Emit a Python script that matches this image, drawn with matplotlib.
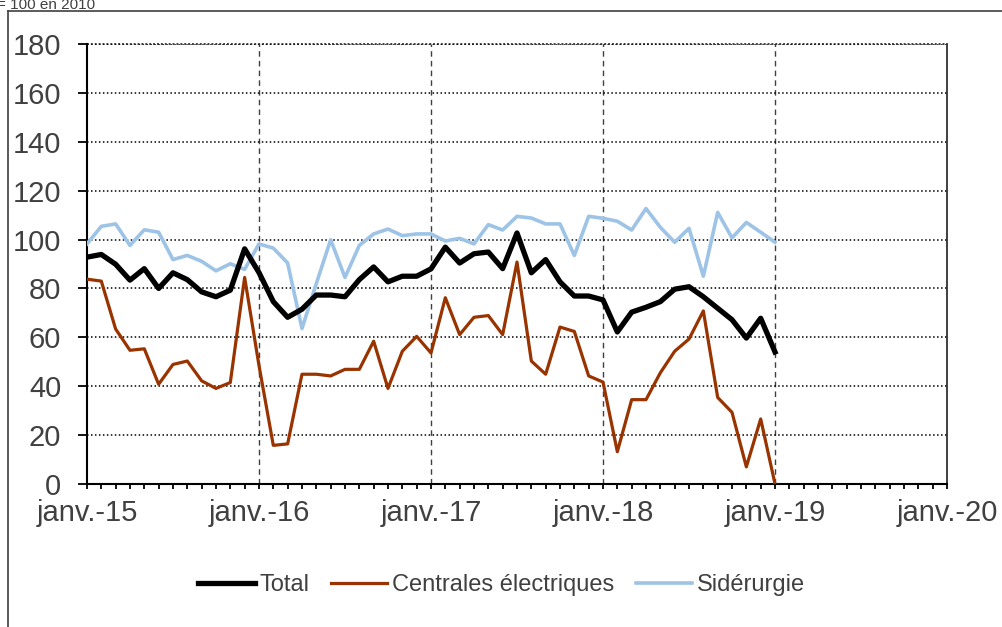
import matplotlib
matplotlib.use('Agg')
import matplotlib.pyplot as plt
from matplotlib.lines import Line2D
import numpy as np

plt.rcParams['font.family'] = ['Liberation Sans', 'DejaVu Sans']

# indices mensuels, base 100 en 2010 (janv.-15 -> janv.-19)
total = [92.8, 93.9, 89.9, 83.4, 88.1, 80.0, 86.4, 83.6, 78.6, 76.6, 79.3, 96.2,
         86.5, 74.6, 68.2, 71.5, 77.3, 77.3, 76.6, 83.6, 88.8, 82.7, 85.0, 85.0,
         88.0, 96.9, 90.4, 94.2, 94.9, 88.1, 102.7, 86.4, 91.8, 82.7, 76.9, 76.9,
         75.3, 62.2, 70.3, 72.3, 74.6, 79.7, 80.7, 76.6, 71.9, 67.2, 59.7, 67.8, 54.0]
centrales = [83.8, 83.0, 63.4, 54.7, 55.3, 40.8, 48.9, 50.3, 42.2, 39.1, 41.5, 84.5,
             48.5, 15.8, 16.4, 44.9, 44.9, 44.2, 46.9, 46.9, 58.4, 39.1, 54.3, 60.4,
             53.6, 76.2, 61.1, 68.2, 68.9, 61.1, 90.8, 50.3, 44.9, 64.2, 62.4, 44.2,
             41.7, 13.2, 34.5, 34.5, 45.5, 54.3, 59.3, 70.8, 35.4, 29.3, 7.0, 26.6, 0.0]
siderurgie = [98.2, 105.4, 106.4, 97.6, 104.0, 103.0, 91.8, 93.5, 91.1, 87.2, 90.1, 87.8,
              98.2, 96.5, 90.4, 63.6, 82.0, 99.9, 84.5, 97.6, 102.3, 104.3, 101.6, 102.3,
              102.3, 99.4, 100.5, 98.2, 106.1, 103.9, 109.5, 108.8, 106.4, 106.4, 93.5, 109.5,
              108.7, 107.5, 103.9, 112.7, 105.0, 98.9, 104.6, 85.0, 111.1, 100.7, 107.0, 103.0, 98.9]
x_labels = ['janv.-15', 'janv.-16', 'janv.-17', 'janv.-18', 'janv.-19', 'janv.-20']

months = np.arange(len(total))
txt = '#404040'

fig = plt.figure(figsize=(10.03, 6.27), dpi=100)
ax = fig.add_axes([0.0867, 0.2281, 0.9442 - 0.0867, 0.9298 - 0.2281])

ax.plot(months, siderurgie, color='#9DC3E6', lw=2.6, label='Sidérurgie', zorder=3)
ax.plot(months, centrales, color='#993300', lw=2.3, label='Centrales électriques', zorder=4)
ax.plot(months, total, color='black', lw=3.8, label='Total', zorder=5)

ax.set_xlim(0, 60)
ax.set_ylim(0, 180)
ax.set_yticks(range(0, 181, 20))
ax.set_xticks(range(0, 61, 12))
ax.set_xticklabels(x_labels)
ax.set_xticks(range(0, 61), minor=True)

ax.yaxis.grid(True, linestyle=(0, (1, 1.6)), color='black', lw=1.1)
for xv in range(12, 60, 12):
    ax.axvline(xv, color='#404040', lw=1.0, linestyle=(0, (4, 3)), zorder=1)
ax.axhline(180, color='#404040', lw=1.4, linestyle=(0, (1, 1)), clip_on=False, zorder=1)

ax.spines['top'].set_visible(False)
for s in ['left', 'bottom']:
    ax.spines[s].set_linewidth(1.5)
    ax.spines[s].set_color('black')
ax.spines['right'].set_linewidth(1.3)
ax.spines['right'].set_color('#303030')

ax.tick_params(axis='y', direction='out', length=6.5, width=1.3, pad=12,
               labelsize=21, labelcolor=txt)
ax.tick_params(axis='x', which='both', direction='out', length=3.6, width=1.3,
               pad=7, labelsize=21, labelcolor=txt)

h, l = ax.get_legend_handles_labels()
order = [2, 1, 0]
fig.legend([h[i] for i in order], [l[i] for i in order], loc='center',
           bbox_to_anchor=(0.5, 0.067), ncol=3, frameon=False, fontsize=17,
           labelcolor=txt, handlelength=2.4, handletextpad=0.2, columnspacing=0.9)

# cadre extérieur et note en haut à gauche
fig.add_artist(Line2D([0.008, 0.008], [0, 0.9825], color='#404040', lw=1.2,
                      transform=fig.transFigure))
fig.add_artist(Line2D([0.008, 1.0], [0.9825, 0.9825], color='#404040', lw=1.2,
                      transform=fig.transFigure))
fig.text(-0.003, 0.986, '= 100 en 2010', fontsize=11, color=txt, va='baseline', ha='left')

fig.savefig('out.png', dpi=100)
